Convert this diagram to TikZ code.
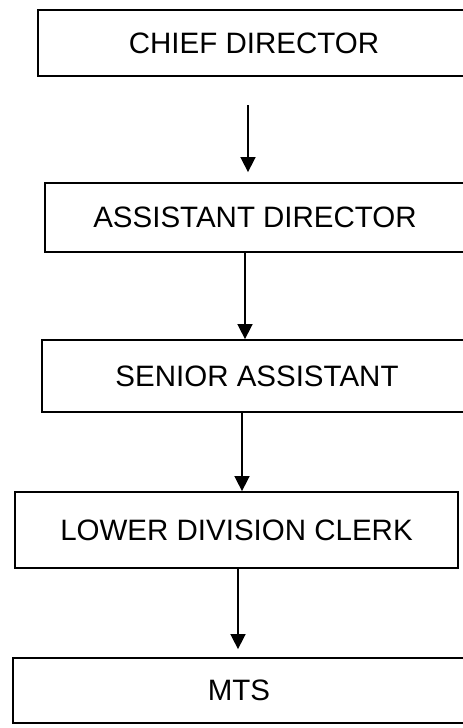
\documentclass[tikz,border=0pt]{standalone}
\usepackage{fontspec}
\setmainfont{Liberation Sans}
\usepackage{tikz}
\usetikzlibrary{arrows.meta,positioning}
\tikzset{
  box/.style={draw, line width=1.8pt, inner sep=0pt, align=center, font=\fontsize{29.5}{34}\selectfont},
  edge/.style={-{Triangle[width=15pt,length=15pt]}, line width=1.6pt}
}
\begin{document}
\begin{tikzpicture}[x=1pt,y=1pt]
    \useasboundingbox (0,0) rectangle (463,-728);
    % Nodes
    \node[box, minimum width=432pt, minimum height=66pt] (chief) at (254,-43) {CHIEF DIRECTOR};
    \node[box, minimum width=420pt, minimum height=69pt] (asst) at (255,-217.5) {ASSISTANT DIRECTOR};
    \node[box, minimum width=430pt, minimum height=72pt] (senior) at (257,-376) {SENIOR ASSISTANT};
    \node[box, minimum width=443pt, minimum height=76pt] (ldc) at (236.5,-530) {LOWER DIVISION CLERK};
    \node[box, minimum width=452pt, minimum height=65pt] (mts) at (239,-690.5) {MTS};

    % Edges
    \coordinate (a1) at (248,-105);
    \draw[edge] (a1) -- ([yshift=10pt]a1 |- asst.north);
    \draw[edge] (asst.south -| 245,0) -- (245,0 |- senior.north);
    \draw[edge] (senior.south -| 242,0) -- (242,0 |- ldc.north);
    \draw[edge] (ldc.south -| 238,0) -- ([yshift=8pt]238,0 |- mts.north);
\end{tikzpicture}
\end{document}
